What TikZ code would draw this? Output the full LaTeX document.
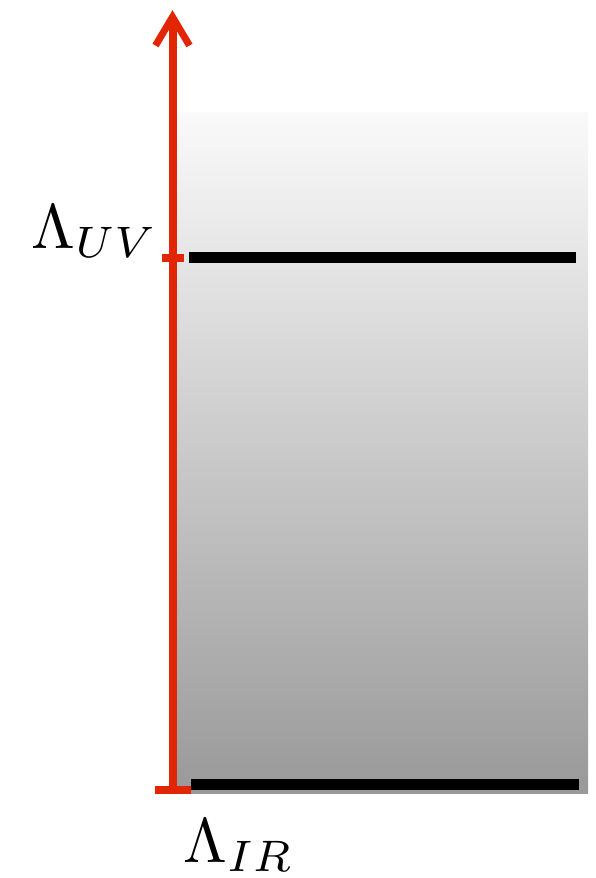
\documentclass[tikz,border=0pt]{standalone}
\usetikzlibrary{calc}
\definecolor{axisred}{RGB}{226,38,4}
\tikzset{
  axisline/.style={draw=axisred, line width=8pt},
  ticksty/.style={draw=axisred, line width=8pt},
  levelline/.style={draw=black, line width=10.5pt},
  lab/.style={inner sep=0pt, scale=6.3}
}
\begin{document}
\begin{tikzpicture}[x=1pt,y=-1pt]
\useasboundingbox (0,0) rectangle (596,878);
% shaded background
\shade[top color=black!2, bottom color=black!40] (173,112) rectangle (588,793);
% coordinates
\coordinate (bot) at (172.5,790);
\coordinate (vtx) at (172.5,17);
\coordinate (al) at (155.5,45.5);
\coordinate (ar) at (189.5,45.5);
\coordinate (uvL) at (162,258);
\coordinate (uvR) at (184,258);
\coordinate (irL) at (155,790);
\coordinate (irR) at (191,790);
\coordinate (uvA) at (189,257.5);
\coordinate (uvB) at (576,257.5);
\coordinate (irA) at (191,784.5);
\coordinate (irB) at (579,784.5);
% axis
\draw[axisline] (bot) -- (vtx);
\draw[axisline, line width=7pt, miter limit=10] (al) -- (vtx) -- (ar);
% ticks
\draw[ticksty] (uvL) -- (uvR);
\draw[ticksty] (irL) -- (irR);
% levels
\draw[levelline] (uvA) -- (uvB);
\draw[levelline] (irA) -- (irB);
% labels
\node[lab, anchor=base west] (uv) at (30,248) {$\Lambda_{UV}$};
\node[lab, anchor=base west] (ir) at (182,862) {$\Lambda_{IR}$};
\end{tikzpicture}
\end{document}
